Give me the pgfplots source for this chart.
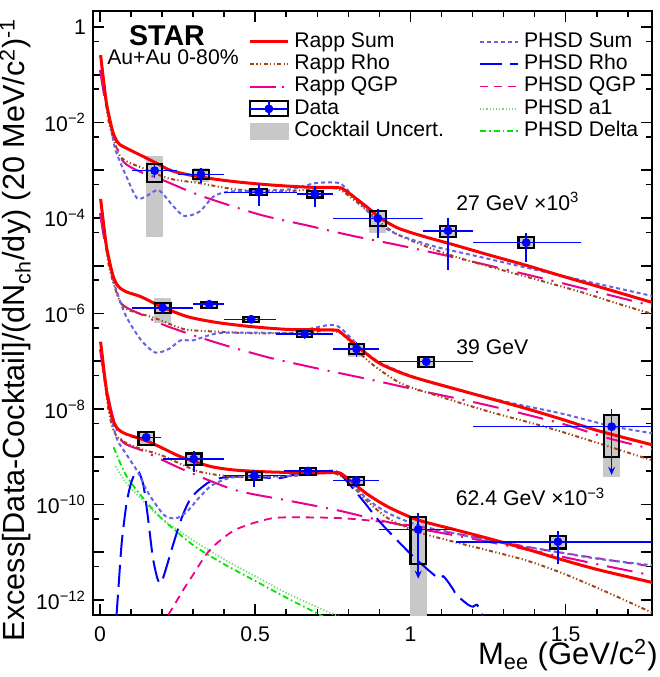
\documentclass[border=0pt]{standalone}
\usepackage{fontspec}
\setmainfont{Liberation Sans}
\usepackage{pgfplots}
\pgfplotsset{compat=1.18}
\usetikzlibrary{arrows.meta}
\definecolor{cphsdsum}{RGB}{100,100,230}
\definecolor{crapprho}{RGB}{160,70,20}
\definecolor{band}{RGB}{200,200,200}
\definecolor{grn}{RGB}{0,230,0}
\definecolor{lgrn}{RGB}{110,220,110}
\newcommand{\cband}[4]{\addplot[fill=band, draw=none, forget plot] coordinates {(#1,#3) (#2,#3) (#2,#4) (#1,#4)} -- cycle;}
\newcommand{\sysbox}[4]{\addplot[draw=black, line width=1.1pt, forget plot] coordinates {(#1,#3) (#2,#3) (#2,#4) (#1,#4)} -- cycle;}
\pgfplotsset{
 sRappSum/.style={red, line width=1.5pt, smooth, tension=0.45, forget plot},
 sRappRho/.style={crapprho, line width=1pt, dash pattern=on 2pt off 1.2pt on 0.6pt off 1.2pt on 0.6pt off 1.2pt, smooth, tension=0.45, forget plot},
 sRappQGP/.style={magenta, line width=1pt, dash pattern=on 13pt off 4.5pt on 1pt off 4.5pt, smooth, tension=0.45, forget plot},
 sPhsdSum/.style={cphsdsum, line width=1pt, dash pattern=on 2pt off 1.5pt, smooth, tension=0.45, forget plot},
 sPhsdRho/.style={blue, line width=1pt, dash pattern=on 11pt off 4pt, smooth, tension=0.45, forget plot},
 sPhsdQGP/.style={magenta, line width=0.9pt, dash pattern=on 4pt off 3pt, smooth, tension=0.45, forget plot},
 sPhsdA/.style={lgrn, line width=0.9pt, dash pattern=on 0.6pt off 1pt, smooth, tension=0.45, forget plot},
 sPhsdDelta/.style={grn, line width=0.9pt, dash pattern=on 3pt off 1.5pt on 0.8pt off 1.5pt, smooth, tension=0.45, forget plot},
 sData/.style={only marks, mark=*, blue, mark size=2pt, forget plot,
   error bars/.cd, x dir=both, x explicit, y dir=both, y explicit, error mark=none,
   error bar style={blue, line width=0.8pt}},
}
\newcommand{\lab}{\fontsize{10.6}{12}\selectfont}
\begin{document}
\begin{tikzpicture}
\useasboundingbox (0,0) rectangle (330pt,338.5pt);
\begin{axis}[
  at={(46.5pt,31pt)}, anchor=south west,
  scale only axis, width=279.5pt, height=302pt,
  xmin=-0.0225, xmax=1.778,
  ymode=log, ymin=4.85e-13, ymax=2.16,
  axis line style={line width=1pt},
  tick style={black, line width=0.8pt},
  major tick length=5.5pt, minor tick length=2.8pt,
  xtick={0,0.5,1,1.5}, xticklabels={0,0.5,1,1.5},
  minor xtick={0.1,0.2,0.3,0.4,0.6,0.7,0.8,0.9,1.1,1.2,1.3,1.4,1.6,1.7},
  ytick={1,1e-1,1e-2,1e-3,1e-4,1e-5,1e-6,1e-7,1e-8,1e-9,1e-10,1e-11,1e-12},
  yticklabels={1,{},10\textsuperscript{−2},{},10\textsuperscript{−4},{},10\textsuperscript{−6},{},10\textsuperscript{−8},{},10\textsuperscript{−10},{},10\textsuperscript{−12}},
  minor ytick={5e-1,5e-2,5e-3,5e-4,5e-5,5e-6,5e-7,5e-8,5e-9,5e-10,5e-11,5e-12},
  tick label style={font=\lab},
  xticklabel style={yshift=-2.5pt},
  legend columns=2,
  legend cell align=left,
  legend style={at={(0.2773,0.9677)}, anchor=north west, draw=none, fill=none, inner sep=0pt,
    font=\lab, row sep=0.15pt,
    nodes={inner sep=0.5pt, text height=7.6pt, text depth=2.4pt},
    /tikz/every odd column/.append style={column sep=2pt},
    /tikz/every even column/.append style={column sep=17pt}},
  legend image code/.code={\draw[#1] (0pt,0pt) -- (19pt,0pt);},
]
% legend entries
\addlegendimage{red, line width=1.5pt}\addlegendentry{Rapp Sum}
\addlegendimage{cphsdsum, line width=1pt, dash pattern=on 2pt off 1.5pt}\addlegendentry{PHSD Sum}
\addlegendimage{crapprho, line width=1pt, dash pattern=on 2pt off 1.2pt on 0.6pt off 1.2pt on 0.6pt off 1.2pt}\addlegendentry{Rapp Rho}
\addlegendimage{blue, line width=1pt, dash pattern=on 11pt off 4pt}\addlegendentry{PHSD Rho}
\addlegendimage{magenta, line width=1pt, dash pattern=on 13pt off 3pt on 1pt off 3pt}\addlegendentry{Rapp QGP}
\addlegendimage{magenta, line width=0.9pt, dash pattern=on 4pt off 3pt}\addlegendentry{PHSD QGP}
\addlegendimage{legend image code/.code={\draw[black, line width=1pt, fill=white] (0pt,-3.7pt) rectangle (19pt,3.7pt); \draw[blue, line width=0.8pt] (0pt,0pt) -- (19pt,0pt) (9.5pt,-3.7pt) -- (9.5pt,3.7pt); \fill[blue] (9.5pt,0pt) circle (2pt);}}\addlegendentry{Data}
\addlegendimage{lgrn, line width=0.9pt, dash pattern=on 0.6pt off 1pt}\addlegendentry{PHSD a1}
\addlegendimage{legend image code/.code={\fill[band] (0pt,-4.1pt) rectangle (19pt,4.1pt);}}\addlegendentry{Cocktail Uncert.}
\addlegendimage{grn, line width=0.9pt, dash pattern=on 3pt off 1.5pt on 0.8pt off 1.5pt}\addlegendentry{PHSD Delta}

% cocktail uncertainty bands
\cband{0.149}{0.203}{4.07e-5}{2.0e-3}
\cband{0.298}{0.352}{5.75e-4}{1.10e-3}
\cband{0.483}{0.541}{2.95e-4}{4.03e-4}
\cband{0.665}{0.719}{2.65e-4}{3.76e-4}
\cband{0.868}{0.922}{4.90e-5}{1.48e-4}
\cband{1.094}{1.148}{4.0e-5}{6.9e-5}
\cband{1.346}{1.400}{2.3e-5}{4.05e-5}
\cband{0.175}{0.229}{6.46e-7}{2.09e-6}
\cband{0.325}{0.379}{1.30e-6}{1.80e-6}
\cband{0.460}{0.514}{6.5e-7}{8.65e-7}
\cband{0.632}{0.686}{3.1e-7}{4.38e-7}
\cband{0.799}{0.853}{1.21e-7}{2.37e-7}
\cband{1.024}{1.078}{7.3e-8}{1.26e-7}
\cband{1.621}{1.675}{3.82e-10}{7.6e-9}
\cband{0.122}{0.176}{1.73e-9}{3.4e-9}
\cband{0.275}{0.329}{6.5e-10}{1.19e-9}
\cband{0.470}{0.524}{3.2e-10}{4.8e-10}
\cband{0.643}{0.697}{4.1e-10}{5.85e-10}
\cband{0.798}{0.852}{2.52e-10}{3.88e-10}
\cband{0.998}{1.052}{1e-13}{5.45e-11}
\cband{1.448}{1.502}{1.18e-11}{2.22e-11}

% ===== 27 GeV x10^3 =====
\addplot[sRappQGP] coordinates {(0.0,0.126) (0.016,2.95e-2) (0.032,1.12e-2) (0.048,4.27e-3) (0.075,1.51e-3) (0.129,9.33e-4) (0.2,6.31e-4) (0.28,3.80e-4) (0.354,2.51e-4) (0.52,1.15e-4) (0.67,6.92e-5) (0.81,4.27e-5) (0.963,2.69e-5) (1.11,1.66e-5) (1.256,1.0e-5) (1.41,5.75e-6) (1.56,3.31e-6) (1.79,1.38e-6)};
\addplot[sRappRho] coordinates {(0.006,0.158) (0.011,7.08e-2) (0.027,1.12e-2) (0.043,4.68e-3) (0.064,2.0e-3) (0.09,1.48e-3) (0.129,1.17e-3) (0.22,6.76e-4) (0.319,5.37e-4) (0.436,3.98e-4) (0.553,3.55e-4) (0.67,3.89e-4) (0.729,4.37e-4) (0.776,3.80e-4) (0.858,1.48e-4) (0.905,7.76e-5) (0.963,4.37e-5) (1.08,2.14e-5) (1.197,1.22e-5) (1.373,5.89e-6) (1.549,2.82e-6) (1.666,1.62e-6) (1.79,9.33e-7)};
\addplot[sPhsdSum] coordinates {(0.005,0.1) (0.02,2.51e-2) (0.037,6.92e-3) (0.05,2.63e-3) (0.085,7.41e-4) (0.12,2.57e-4) (0.155,3.02e-4) (0.19,3.80e-4) (0.237,1.74e-4) (0.272,1.10e-4) (0.32,1.35e-4) (0.366,2.82e-4) (0.413,3.55e-4) (0.495,3.72e-4) (0.612,3.98e-4) (0.694,5.37e-4) (0.764,5.50e-4) (0.787,4.52e-4) (0.858,1.48e-4) (0.905,7.08e-5) (0.963,4.37e-5) (1.08,2.51e-5) (1.197,1.68e-5) (1.373,9.12e-6) (1.549,5.01e-6) (1.666,3.39e-6) (1.79,2.24e-6)};
\addplot[sRappSum] coordinates {(0.002,0.257) (0.012,7.08e-2) (0.021,2.51e-2) (0.032,1.12e-2) (0.043,5.89e-3) (0.055,3.98e-3) (0.065,3.39e-3) (0.086,2.88e-3) (0.129,2.09e-3) (0.183,1.40e-3) (0.23,9.77e-4) (0.322,7.24e-4) (0.436,5.75e-4) (0.553,4.90e-4) (0.67,4.42e-4) (0.764,4.32e-4) (0.787,3.89e-4) (0.858,1.74e-4) (0.905,9.77e-5) (0.963,6.03e-5) (1.045,4.07e-5) (1.139,2.75e-5) (1.256,1.66e-5) (1.373,1.02e-5) (1.49,6.03e-6) (1.607,3.63e-6) (1.79,1.62e-6)};

% ===== 39 GeV =====
\addplot[sRappQGP] coordinates {(0.0,1.26e-4) (0.016,2.95e-5) (0.032,1.12e-5) (0.048,4.27e-6) (0.07,1.58e-6) (0.143,8.91e-7) (0.21,5.62e-7) (0.307,3.39e-7) (0.42,2.0e-7) (0.55,1.17e-7) (0.7,7.08e-8) (0.875,4.07e-8) (1.034,2.40e-8) (1.2,1.41e-8) (1.338,8.71e-9) (1.5,4.68e-9) (1.631,2.51e-9) (1.79,1.38e-9)};
\addplot[sRappRho] coordinates {(0.006,1.58e-4) (0.011,7.08e-5) (0.027,1.12e-5) (0.043,4.47e-6) (0.064,1.78e-6) (0.09,1.20e-6) (0.179,7.94e-7) (0.272,4.68e-7) (0.378,4.17e-7) (0.495,3.85e-7) (0.67,3.98e-7) (0.74,4.52e-7) (0.787,3.39e-7) (0.846,1.29e-7) (0.905,6.31e-8) (0.975,3.31e-8) (1.08,1.95e-8) (1.256,8.71e-9) (1.432,4.27e-9) (1.607,1.91e-9) (1.79,7.94e-10)};
\addplot[sPhsdSum] coordinates {(0.005,1.0e-4) (0.02,2.51e-5) (0.037,6.92e-6) (0.056,2.63e-6) (0.085,8.51e-7) (0.132,2.79e-7) (0.179,1.51e-7) (0.225,1.86e-7) (0.26,2.75e-7) (0.30,2.75e-7) (0.378,3.85e-7) (0.495,3.98e-7) (0.612,3.89e-7) (0.67,4.68e-7) (0.74,5.75e-7) (0.776,4.90e-7) (0.846,1.74e-7) (0.905,9.12e-8) (1.022,4.37e-8) (1.139,2.63e-8) (1.315,1.38e-8) (1.49,7.94e-9) (1.648,4.37e-9) (1.79,3.02e-9)};
\addplot[sRappSum] coordinates {(0.002,2.51e-4) (0.012,7.08e-5) (0.021,2.51e-5) (0.032,1.12e-5) (0.043,5.89e-6) (0.055,3.98e-6) (0.065,3.39e-6) (0.086,2.82e-6) (0.132,2.24e-6) (0.202,1.35e-6) (0.284,8.51e-7) (0.378,6.46e-7) (0.495,5.25e-7) (0.612,4.62e-7) (0.752,4.52e-7) (0.776,3.98e-7) (0.846,1.66e-7) (0.905,8.71e-8) (0.998,4.90e-8) (1.139,2.69e-8) (1.256,1.66e-8) (1.373,1.02e-8) (1.49,6.03e-9) (1.607,3.47e-9) (1.79,1.70e-9)};

% ===== 62.4 GeV x10^-3 =====
\addplot[sPhsdDelta] coordinates {(0.044,1.58e-9) (0.085,3.98e-10) (0.143,1.26e-10) (0.2,5.01e-11) (0.3,1.41e-11) (0.4,5.62e-12) (0.5,2.51e-12) (0.6,1.12e-12) (0.66,7.08e-13) (0.72,4.47e-13)};
\addplot[sPhsdA] coordinates {(0.05,6.31e-10) (0.085,2.82e-10) (0.143,1.12e-10) (0.2,5.01e-11) (0.3,1.78e-11) (0.4,7.08e-12) (0.5,3.16e-12) (0.6,1.41e-12) (0.7,7.08e-13) (0.77,4.47e-13)};
\addplot[sPhsdQGP] coordinates {(0.22,4.90e-13) (0.237,7.41e-13) (0.268,1.62e-12) (0.296,3.09e-12) (0.354,1.12e-11) (0.436,2.95e-11) (0.553,5.13e-11) (0.67,5.37e-11) (0.787,5.13e-11) (0.905,4.37e-11) (1.022,3.47e-11) (1.139,2.51e-11) (1.256,1.82e-11) (1.432,1.12e-11) (1.607,7.41e-12) (1.79,4.90e-12)};
\addplot[sPhsdRho] coordinates {(0.053,4.47e-13) (0.06,2.0e-12) (0.07,1.58e-11) (0.085,1.0e-10) (0.1,2.82e-10) (0.115,4.68e-10) (0.125,4.79e-10) (0.14,2.51e-10) (0.155,5.01e-11) (0.17,7.94e-12) (0.185,2.82e-12) (0.196,2.24e-12) (0.21,3.98e-12) (0.237,1.55e-11) (0.265,5.62e-11) (0.296,1.45e-10) (0.354,3.02e-10) (0.413,3.80e-10) (0.495,3.80e-10) (0.576,3.55e-10) (0.623,4.17e-10) (0.694,4.47e-10) (0.74,4.90e-10) (0.776,4.17e-10) (0.846,1.23e-10) (0.905,4.07e-11) (0.998,9.55e-12) (1.057,4.27e-12) (1.092,2.82e-12) (1.105,3.16e-12) (1.121,2.40e-12) (1.139,1.62e-12) (1.149,1.26e-12) (1.186,7.94e-13) (1.202,7.24e-13) (1.215,7.94e-13) (1.234,4.47e-13)};
\addplot[sRappQGP] coordinates {(0.0,1.78e-7) (0.016,3.98e-8) (0.032,1.26e-8) (0.048,5.01e-9) (0.075,2.0e-9) (0.143,1.29e-9) (0.272,5.25e-10) (0.436,2.0e-10) (0.6,1.23e-10) (0.764,7.59e-11) (0.881,5.01e-11) (1.022,3.16e-11) (1.186,2.0e-11) (1.326,1.32e-11) (1.478,8.32e-12) (1.631,5.13e-12) (1.79,3.16e-12)};
\addplot[sRappRho] coordinates {(0.006,1.58e-7) (0.011,6.31e-8) (0.027,1.0e-8) (0.041,3.98e-9) (0.06,2.40e-9) (0.1,1.74e-9) (0.143,1.38e-9) (0.202,1.05e-9) (0.319,4.90e-10) (0.436,3.80e-10) (0.553,3.80e-10) (0.67,4.17e-10) (0.74,4.68e-10) (0.787,3.55e-10) (0.858,1.23e-10) (0.928,5.13e-11) (1.022,2.69e-11) (1.139,1.66e-11) (1.256,1.07e-11) (1.373,6.76e-12) (1.49,3.63e-12) (1.631,1.48e-12) (1.79,5.01e-13)};
\addplot[sPhsdSum] coordinates {(0.005,1.0e-7) (0.02,2.51e-8) (0.037,6.31e-9) (0.056,2.24e-9) (0.085,1.12e-9) (0.12,5.01e-10) (0.15,2.0e-10) (0.18,1.0e-10) (0.21,5.75e-11) (0.245,5.13e-11) (0.28,7.08e-11) (0.32,1.41e-10) (0.36,2.51e-10) (0.42,3.63e-10) (0.5,3.89e-10) (0.61,3.98e-10) (0.69,4.57e-10) (0.75,5.13e-10) (0.787,3.98e-10) (0.858,1.35e-10) (0.928,6.61e-11) (1.022,3.72e-11) (1.139,2.51e-11) (1.256,1.74e-11) (1.432,1.12e-11) (1.607,7.24e-12) (1.79,5.25e-12)};
\addplot[sRappSum] coordinates {(0.002,2.57e-7) (0.012,7.08e-8) (0.021,2.51e-8) (0.032,1.0e-8) (0.043,5.62e-9) (0.055,3.98e-9) (0.065,3.47e-9) (0.086,2.95e-9) (0.143,2.24e-9) (0.202,1.51e-9) (0.26,1.0e-9) (0.354,6.31e-10) (0.436,5.25e-10) (0.553,4.79e-10) (0.694,4.57e-10) (0.764,4.68e-10) (0.787,3.98e-10) (0.858,1.70e-10) (0.928,8.91e-11) (1.022,4.79e-11) (1.139,3.02e-11) (1.256,1.91e-11) (1.373,1.17e-11) (1.49,6.92e-12) (1.607,4.27e-12) (1.79,2.24e-12)};

% systematic boxes
\sysbox{0.151}{0.201}{5.75e-4}{1.35e-3}
\sysbox{0.300}{0.350}{6.46e-4}{1.01e-3}
\sysbox{0.485}{0.539}{2.99e-4}{3.98e-4}
\sysbox{0.667}{0.717}{2.69e-4}{3.72e-4}
\sysbox{0.870}{0.920}{6.79e-5}{1.40e-4}
\sysbox{1.096}{1.146}{4.07e-5}{6.79e-5}
\sysbox{1.348}{1.398}{2.34e-5}{3.98e-5}
\sysbox{0.177}{0.227}{1.01e-6}{1.68e-6}
\sysbox{0.327}{0.377}{1.32e-6}{1.77e-6}
\sysbox{0.462}{0.512}{6.61e-7}{8.51e-7}
\sysbox{0.634}{0.684}{3.16e-7}{4.31e-7}
\sysbox{0.801}{0.851}{1.42e-7}{2.26e-7}
\sysbox{1.026}{1.076}{7.46e-8}{1.24e-7}
\sysbox{1.623}{1.673}{1.0e-9}{7.48e-9}
\sysbox{0.124}{0.174}{1.76e-9}{3.35e-9}
\sysbox{0.277}{0.327}{6.61e-10}{1.17e-9}
\sysbox{0.472}{0.522}{3.26e-10}{4.72e-10}
\sysbox{0.645}{0.695}{4.17e-10}{5.75e-10}
\sysbox{0.800}{0.850}{2.57e-10}{3.82e-10}
\sysbox{1.000}{1.050}{5.62e-12}{5.37e-11}
\sysbox{1.450}{1.500}{1.20e-11}{2.19e-11}

% data
\addplot[sData] table[x=x, y=y, x error minus=exm, x error plus=exp, y error minus=eym, y error plus=eyp] {
x y exm exp eym eyp
0.176 9.8e-4 0.074 0.073 3.0e-4 3.1e-4
0.325 8.2e-4 0.073 0.074 2.8e-4 2.8e-4
0.512 3.45e-4 0.111 0.123 1.63e-4 1.68e-4
0.692 3.18e-4 0.057 0.057 1.44e-4 1.39e-4
0.895 9.8e-5 0.146 0.144 5.9e-5 5.7e-5
1.121 5.4e-5 0.079 0.079 4.6e-5 4.4e-5
1.373 3.04e-5 0.172 0.176 1.87e-5 1.86e-5
};
\addplot[sData] table[x=x, y=y, x error minus=exm, x error plus=exp, y error minus=eym, y error plus=eyp] {
x y exm exp eym eyp
0.202 1.32e-6 0.100 0.099 2.8e-7 3.1e-7
0.352 1.56e-6 0.051 0.047 3.4e-7 3.0e-7
0.487 7.55e-7 0.086 0.081 1.35e-7 1.35e-7
0.659 3.72e-7 0.091 0.090 7.5e-8 7.5e-8
0.826 1.81e-7 0.077 0.073 5.7e-8 7.6e-8
1.051 9.8e-8 0.152 0.149 2.3e-8 2.3e-8
1.648 4.26e-9 0.448 0.352 0 0
};
\addplot[sData] table[x=x, y=y, x error minus=exm, x error plus=exp, y error minus=eym, y error plus=eyp] {
x y exm exp eym eyp
0.149 2.55e-9 0.047 0.049 5e-10 5e-10
0.302 8.97e-10 0.100 0.097 4.1e-10 4.2e-10
0.497 4.02e-10 0.098 0.103 1.68e-10 1.23e-10
0.670 5.03e-10 0.078 0.079 9e-11 9e-11
0.825 3.16e-10 0.076 0.074 8e-11 8e-11
1.025 3.0e-11 0.126 0.123 0 0
1.475 1.66e-11 0.327 0.525 1.1e-11 1.16e-11
};
\addplot[blue, line width=0.8pt, -{Stealth[length=4pt, width=3.5pt]}, forget plot] coordinates {(1.648,9.77e-9) (1.648,4.17e-10)};
\addplot[blue, line width=0.8pt, -{Stealth[length=4pt, width=3.5pt]}, forget plot] coordinates {(1.025,6.61e-11) (1.025,2.8e-12)};

% text
\node[font=\bfseries\fontsize{14.3}{16}\selectfont] at (rel axis cs:0.1324,0.960) {STAR};
\node[font=\lab] at (rel axis cs:0.1431,0.923) {Au+Au 0-80\%};
\node[font=\lab, anchor=base west, inner sep=0pt] at (rel axis cs:0.6494,0.6705) {27 GeV ×10\textsuperscript{3}};
\node[font=\lab, anchor=base west, inner sep=0pt] at (rel axis cs:0.6494,0.432) {39 GeV};
\node[font=\lab, anchor=base west, inner sep=0pt] at (rel axis cs:0.6485,0.1805) {62.4 GeV ×10\textsuperscript{−3}};
\end{axis}
\node[rotate=90, anchor=base east, inner sep=0pt, font=\fontsize{15.3}{17}\selectfont] at (12.5pt,329.5pt) {Excess[Data-Cocktail]/(dN\textsubscript{ch}/dy) (20 MeV/c\textsuperscript{2})\textsuperscript{-1}};
\node[anchor=base east, inner sep=0pt, font=\fontsize{15.5}{17}\selectfont] at (329pt,6pt) {M\textsubscript{ee} (GeV/c\textsuperscript{2})};
\end{tikzpicture}
\end{document}
